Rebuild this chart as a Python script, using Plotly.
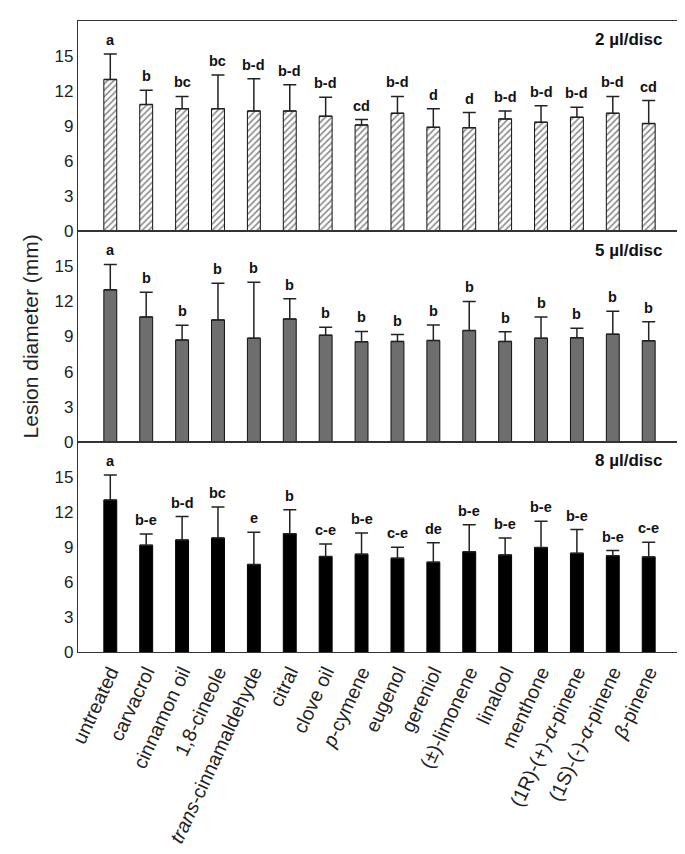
import plotly.graph_objects as go
from plotly.subplots import make_subplots

categories = ["untreated", "carvacrol", "cinnamon oil", "1,8-cineole",
              "<i>trans</i>-cinnamaldehyde", "citral", "clove oil", "<i>p</i>-cymene",
              "eugenol", "gereniol", "(±)-limonene", "linalool", "menthone",
              "(1R)-(+)-<i>α</i>-pinene", "(1S)-(-)-<i>α</i>-pinene", "<i>β</i>-pinene"]

mean_2ul = [13.0, 10.85, 10.5, 10.5, 10.3, 10.3, 9.85, 9.1, 10.1, 8.9, 8.87, 9.62, 9.33, 9.76, 10.1, 9.22]
top_2ul = [15.17, 12.08, 11.54, 13.37, 13.05, 12.54, 11.48, 9.56, 11.54, 10.48, 10.16, 10.3, 10.74, 10.62, 11.54, 11.19]
letters_2ul = ["a", "b", "bc", "bc", "b-d", "b-d", "b-d", "cd", "b-d", "d", "d", "b-d", "b-d", "b-d", "b-d", "cd"]

mean_5ul = [12.99, 10.67, 8.69, 10.42, 8.86, 10.5, 9.11, 8.55, 8.58, 8.66, 9.51, 8.58, 8.86, 8.89, 9.2, 8.63]
top_5ul = [15.17, 12.79, 9.96, 13.56, 13.64, 12.23, 9.79, 9.43, 9.17, 9.99, 12.0, 9.4, 10.67, 9.71, 11.15, 10.27]
letters_5ul = ["a", "b", "b", "b", "b", "b", "b", "b", "b", "b", "b", "b", "b", "b", "b", "b"]

mean_8ul = [13.0, 9.14, 9.59, 9.76, 7.49, 10.13, 8.17, 8.37, 8.03, 7.69, 8.57, 8.31, 8.94, 8.45, 8.23, 8.14]
top_8ul = [15.14, 10.1, 11.59, 12.41, 10.25, 12.18, 9.25, 10.19, 8.97, 9.34, 10.9, 9.76, 11.19, 10.48, 8.68, 9.39]
letters_8ul = ["a", "b-e", "b-d", "bc", "e", "b", "c-e", "b-e", "c-e", "de", "b-e", "b-e", "b-e", "b-e", "b-e", "c-e"]

panel_titles = ["2 µl/disc", "5 µl/disc", "8 µl/disc"]
y_ticks = [0, 3, 6, 9, 12, 15]

FONT = "Liberation Sans, Arial, sans-serif"

fig = make_subplots(rows=3, cols=1, shared_xaxes=True, vertical_spacing=0)

panels = [
    (mean_2ul, top_2ul, letters_2ul, dict(color="white", line=dict(color="#111", width=1),
                                          pattern=dict(shape="/", fgcolor="#111", bgcolor="white",
                                                       size=4.5, solidity=0.35))),
    (mean_5ul, top_5ul, letters_5ul, dict(color="#6e6e6e", line=dict(color="#111", width=1))),
    (mean_8ul, top_8ul, letters_8ul, dict(color="#000000", line=dict(color="#000", width=1))),
]

xs = list(range(len(categories)))
for i, (means, tops, letters, marker) in enumerate(panels):
    row = i + 1
    err = [t - m for t, m in zip(tops, means)]
    fig.add_trace(go.Bar(
        x=xs, y=means, width=0.36, marker=marker,
        error_y=dict(type="data", symmetric=False, array=err, arrayminus=[0] * len(err),
                     color="#222", thickness=1.5, width=6.5),
        showlegend=False, hoverinfo="skip"), row=row, col=1)
    suffix = "" if row == 1 else str(row)
    for x, t, lab in zip(xs, tops, letters):
        fig.add_annotation(x=x, y=t, xref="x" + suffix, yref="y" + suffix, text="<b>%s</b>" % lab,
                           showarrow=False, yanchor="bottom", yshift=4,
                           font=dict(family=FONT, size=14.5, color="#111"))
    fig.add_annotation(x=0.972, y=0.91, xref="x%s domain" % suffix, yref="y%s domain" % suffix,
                       text="<b>%s</b>" % panel_titles[i], showarrow=False,
                       xanchor="right", yanchor="middle",
                       font=dict(family=FONT, size=17, color="#111"))
    fig.update_yaxes(range=[0, 18], tickvals=y_ticks, ticks="", showgrid=False, zeroline=False,
                     showline=True, linecolor="#333", linewidth=1.3,
                     tickfont=dict(family=FONT, size=17, color="#222"), row=row, col=1)
    fig.update_xaxes(range=[-0.9, 15.9], tickvals=xs, ticktext=categories, ticks="", showgrid=False,
                     zeroline=False, showline=True, mirror=True, linecolor="#333", linewidth=1.3,
                     row=row, col=1)

fig.update_xaxes(tickangle=-65, tickfont=dict(family=FONT, size=19.5, color="#222"), row=3, col=1)

fig.add_shape(type="line", xref="paper", yref="paper", x0=1, x1=1, y0=0, y1=1,
              line=dict(color="#999", width=1))

fig.add_annotation(x=-0.078, y=0.5, xref="paper", yref="paper", text="Lesion diameter (mm)",
                   textangle=-90, showarrow=False, xanchor="center", yanchor="middle",
                   font=dict(family=FONT, size=21, color="#222"))

fig.update_layout(width=685, height=854, margin=dict(l=70, r=12, t=13, b=210),
                  plot_bgcolor="white", paper_bgcolor="white", bargap=0.6)

fig.write_html("out.html")
